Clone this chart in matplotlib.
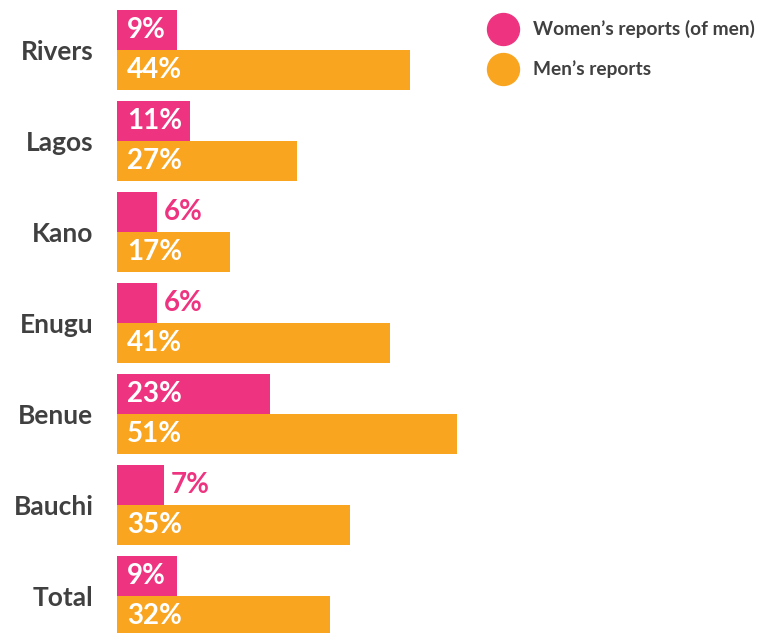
import matplotlib.pyplot as plt

states = ['Rivers', 'Lagos', 'Kano', 'Enugu', 'Benue', 'Bauchi', 'Total']
women = [9, 11, 6, 6, 23, 7, 9]
men = [44, 27, 17, 41, 51, 35, 32]

pink = '#EE3480'
orange = '#F9A51F'
grey = '#404040'

plt.rcParams['font.family'] = ['Lato', 'DejaVu Sans']

fig = plt.figure(figsize=(7.62, 6.33), dpi=100)
ax = fig.add_axes([117 / 762, 0, 645 / 762, 1])

h = 0.44
ys = list(range(len(states)))
ax.barh([y - h / 2 for y in ys], women, height=h, color=pink)
ax.barh([y + h / 2 for y in ys], men, height=h, color=orange)

# value labels
for y, w, m in zip(ys, women, men):
    if w >= 9:
        ax.annotate(f'{w}%', (0, y - h / 2), xytext=(7, 0), textcoords='offset points',
                    color='white', fontsize=20, fontweight='bold', va='center', ha='left')
    else:
        ax.annotate(f'{w}%', (w, y - h / 2), xytext=(5, 0), textcoords='offset points',
                    color=pink, fontsize=20, fontweight='bold', va='center', ha='left')
    ax.annotate(f'{m}%', (0, y + h / 2), xytext=(7, 0), textcoords='offset points',
                color='white', fontsize=20, fontweight='bold', va='center', ha='left')

ax.set_xlim(0, 645 / 6.667)
ax.set_ylim(-0.55 + 633 / 91, -0.55)
ax.set_yticks(ys, states)
ax.tick_params(axis='y', length=0, pad=17, labelsize=19, labelcolor=grey)
for t in ax.get_yticklabels():
    t.set_fontweight('bold')
ax.set_xticks([])
for s in ax.spines.values():
    s.set_visible(False)

# legend
for ly, lab, col in [(29, 'Women’s reports (of men)', pink), (69, 'Men’s reports', orange)]:
    ax.plot([503 / 762], [1 - ly / 633], 'o', ms=23, color=col, transform=fig.transFigure, clip_on=False)
    fig.text(533 / 762, 1 - ly / 633, lab, color=grey, fontsize=13.8, fontweight='bold', va='center', ha='left')

fig.savefig('out.png', dpi=100)
